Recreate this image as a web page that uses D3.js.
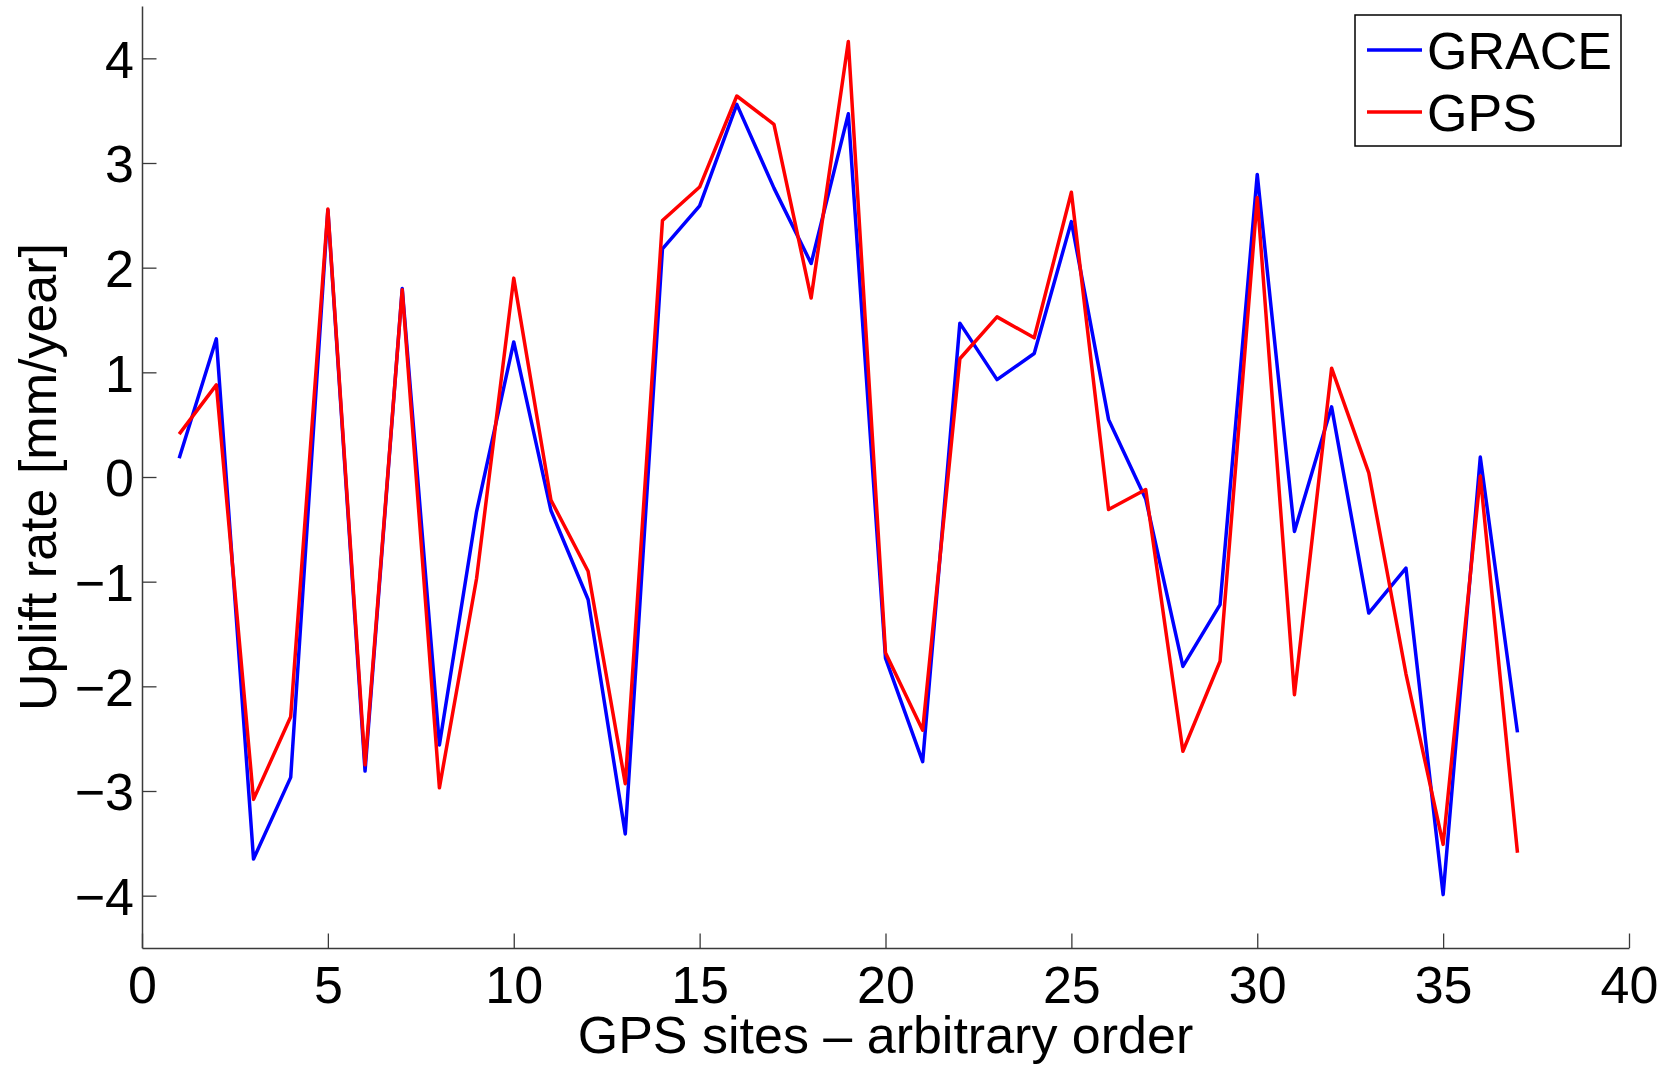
<!DOCTYPE html>
<html>
<head>
<meta charset="utf-8">
<script src="https://cdn.jsdelivr.net/npm/d3@7"></script>
<style>
  body { margin: 0; background: #fff; }
  text { font-family: "Liberation Sans", Arial, Helvetica, sans-serif; }
</style>
</head>
<body>
<script>
//data, site number = index + 1
var grace = [0.18, 1.32, -3.65, -2.87, 2.55, -2.81, 1.80, -2.56, -0.33, 1.29,
             -0.32, -1.17, -3.41, 2.18, 2.59, 3.56, 2.76, 2.04, 3.47, -1.73,
             -2.72, 1.47, 0.93, 1.18, 2.44, 0.55, -0.21, -1.81, -1.22, 2.89,
             -0.52, 0.67, -1.30, -0.87, -3.99, 0.19, -2.44];
var gps = [0.41, 0.88, -3.08, -2.29, 2.56, -2.75, 1.79, -2.97, -0.97, 1.90,
           -0.22, -0.90, -2.93, 2.45, 2.77, 3.64, 3.37, 1.71, 4.16, -1.68,
           -2.42, 1.13, 1.53, 1.33, 2.72, -0.31, -0.12, -2.62, -1.76, 2.67,
           -2.08, 1.04, 0.04, -1.88, -3.51, 0.01, -3.59];
var seriesNames = ["GRACE", "GPS"];
var seriesColors = ["#0000ff", "#ff0000"];
var xTicks = [0, 5, 10, 15, 20, 25, 30, 35, 40];
var yTicks = [-4, -3, -2, -1, 0, 1, 2, 3, 4];
var xLabel = "GPS sites \u2013 arbitrary order";
var yLabel = "Uplift rate [mm/year]";

//Width and height
var W = 1673, H = 1065;
var margin = {top: 6, right: 44, bottom: 117, left: 142};
var width = W - margin.left - margin.right;
var height = H - margin.top - margin.bottom;
var fontSize = 52;
var axisColor = "#3a3a3a";

var x = d3.scaleLinear().domain([0, 40]).range([0, width]);
var y = d3.scaleLinear().domain([-4.5, 4.5]).range([height, 0]);

var svg = d3.select("body").append("svg")
    .attr("width", W)
    .attr("height", H);

var g = svg.append("g")
    .attr("transform", "translate(" + margin.left + "," + margin.top + ")");

function minus(v) {
    return v < 0 ? "\u2212" + Math.abs(v) : String(v);
}

//axes, ticks pointing inside like matlab
var xAxis = d3.axisBottom(x).tickValues(xTicks).tickSizeInner(-14.5).tickSizeOuter(0)
    .tickPadding(22).tickFormat(minus);
var yAxis = d3.axisLeft(y).tickValues(yTicks).tickSizeInner(-14.5).tickSizeOuter(0)
    .tickPadding(22).tickFormat(minus);

var gx = g.append("g").attr("transform", "translate(0," + height + ")").call(xAxis);
var gy = g.append("g").call(yAxis);

[gx, gy].forEach(function(a) {
    a.select(".domain").attr("stroke", axisColor).attr("stroke-width", 1.5);
    a.selectAll(".tick line").attr("stroke", axisColor).attr("stroke-width", 1.3);
    a.selectAll(".tick text")
        .attr("fill", "#000")
        .style("font-size", fontSize + "px")
        .style("font-family", "'Liberation Sans', Arial, sans-serif");
});
gx.selectAll(".tick text").attr("dy", null).attr("y", 55);
gy.selectAll(".tick text").attr("dy", "0.36em").attr("x", -8);

//lines
var line = d3.line()
    .x(function(d, i) { return x(i + 1); })
    .y(function(d) { return y(d); });

[grace, gps].forEach(function(s, k) {
    g.append("path")
        .datum(s)
        .attr("d", line)
        .attr("fill", "none")
        .attr("stroke", seriesColors[k])
        .attr("stroke-width", 3.5)
        .attr("stroke-linejoin", "round");
});

//axis labels
g.append("text")
    .attr("x", width / 2)
    .attr("y", height + 105)
    .attr("text-anchor", "middle")
    .style("font-size", fontSize + "px")
    .text(xLabel);

svg.append("text")
    .attr("transform", "translate(56," + (margin.top + height / 2) + ") rotate(-90)")
    .attr("text-anchor", "middle")
    .style("font-size", fontSize + "px")
    .text(yLabel);

//legend
var legend = svg.append("g").attr("transform", "translate(1355,15)");
legend.append("rect")
    .attr("width", 266)
    .attr("height", 131)
    .attr("fill", "#fff")
    .attr("stroke", "#000")
    .attr("stroke-width", 1.5);

seriesNames.forEach(function(name, k) {
    var ly = 35 + k * 62;
    legend.append("line")
        .attr("x1", 12).attr("x2", 67)
        .attr("y1", ly).attr("y2", ly)
        .attr("stroke", seriesColors[k])
        .attr("stroke-width", 3.5);
    legend.append("text")
        .attr("x", 72)
        .attr("y", ly + 19)
        .style("font-size", fontSize + "px")
        .text(name);
});
</script>
</body>
</html>
